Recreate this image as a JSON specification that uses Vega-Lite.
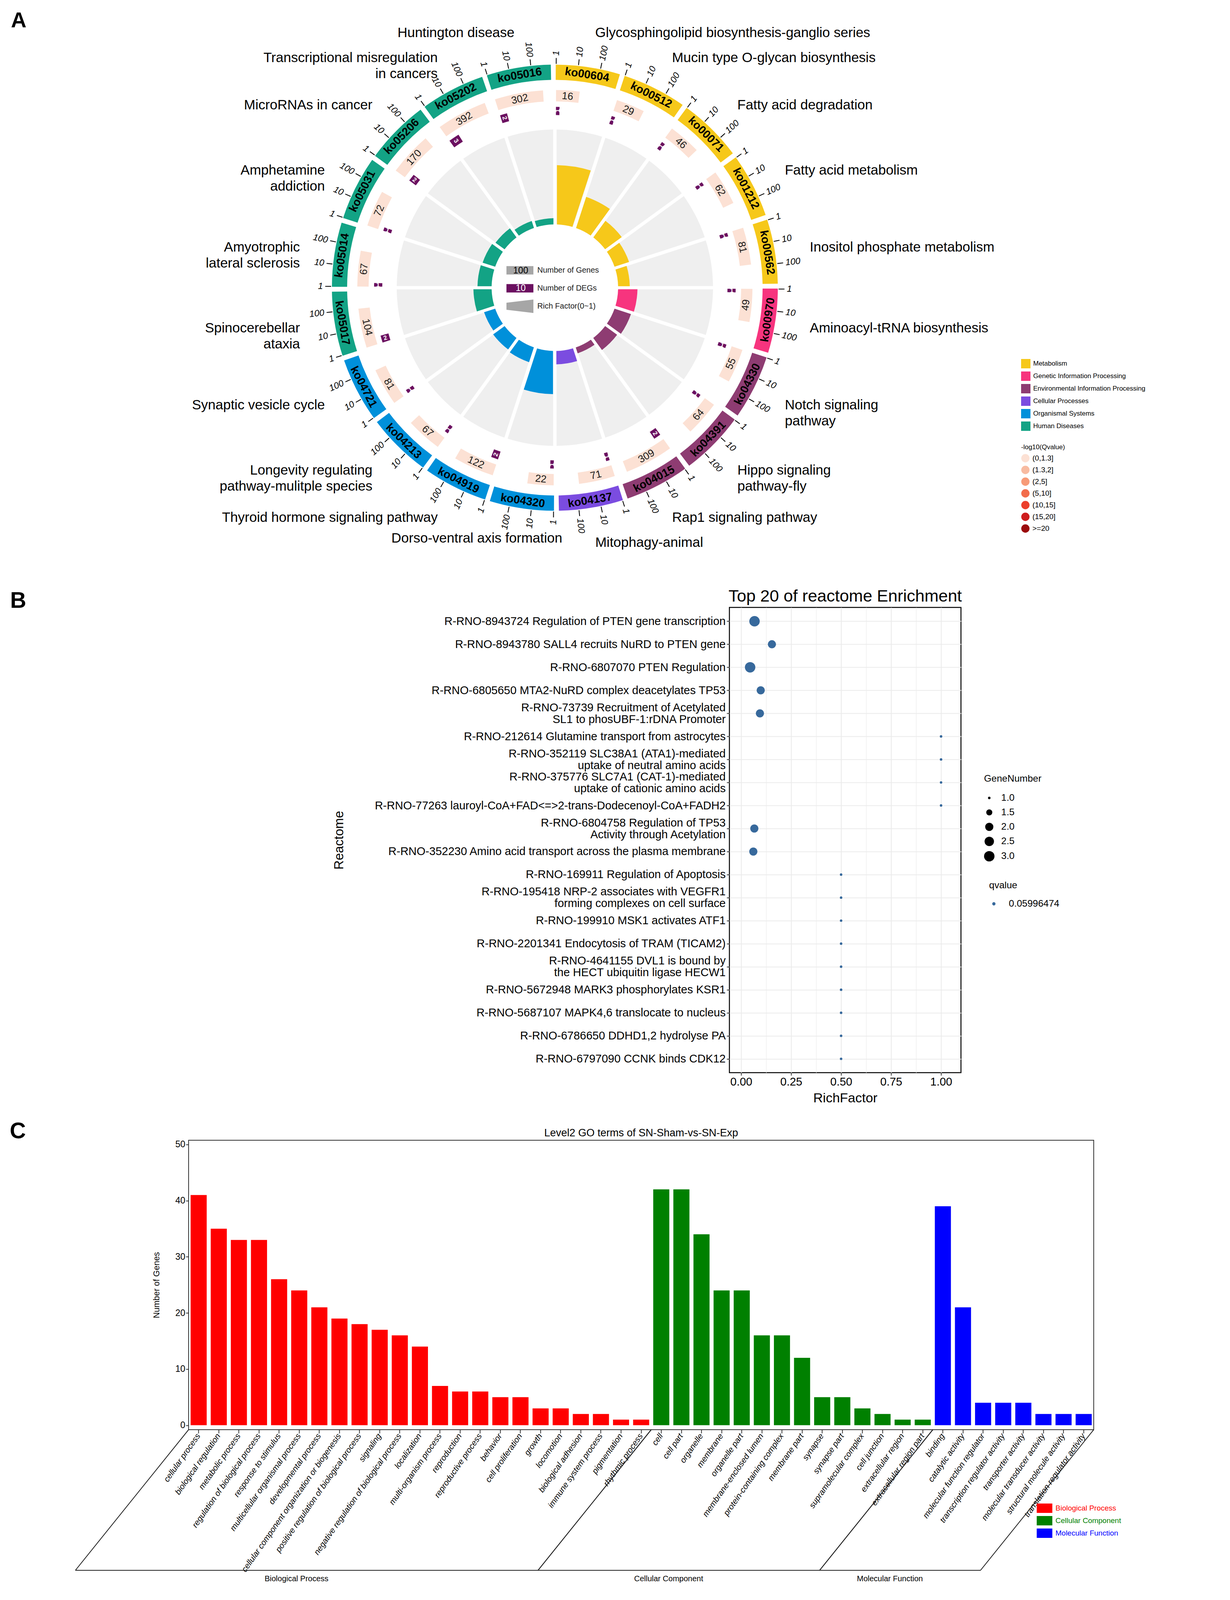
{
"$schema": "https://vega.github.io/schema/vega-lite/v6.json",
"padding": 0,
"background": "white",
"spacing": 0,
"bounds": "flush",
"resolve": {"scale": {"color": "independent", "fill": "independent", "size": "independent", "shape": "independent", "angle": "independent"}, "legend": {"color": "independent", "fill": "independent", "size": "independent", "shape": "independent"}},
"config": {
  "font": "Liberation Sans",
  "view": {"stroke": null},
  "axis": {"labelFont": "Liberation Sans", "titleFont": "Liberation Sans", "titleFontWeight": "normal", "labelColor": "#000", "titleColor": "#000"},
  "legend": {"labelFont": "Liberation Sans", "titleFont": "Liberation Sans", "titleFontWeight": "normal", "labelColor": "#000", "titleColor": "#000", "padding": 0, "labelLimit": 1000, "titleLimit": 1000},
  "title": {"font": "Liberation Sans", "fontWeight": "normal", "color": "#000"}
},
"vconcat": [
{
  "width": 2836, "height": 1473,
  "title": {"text": "A", "anchor": "start", "frame": "group", "orient": "top", "offset": -82, "fontSize": 55, "fontWeight": "bold", "dx": 25},
  "data": {"values": [
    {"idx":0,"id":"ko00604","name":"Glycosphingolipid biosynthesis-ganglio series","cat":"Metabolism","genes":16,"degs":1,"rich":0.0625,"q":"(0,1.3]"},
    {"idx":1,"id":"ko00512","name":"Mucin type O-glycan biosynthesis","cat":"Metabolism","genes":29,"degs":1,"rich":0.0345,"q":"(0,1.3]"},
    {"idx":2,"id":"ko00071","name":"Fatty acid degradation","cat":"Metabolism","genes":46,"degs":1,"rich":0.0217,"q":"(0,1.3]"},
    {"idx":3,"id":"ko01212","name":"Fatty acid metabolism","cat":"Metabolism","genes":62,"degs":1,"rich":0.0161,"q":"(0,1.3]"},
    {"idx":4,"id":"ko00562","name":"Inositol phosphate metabolism","cat":"Metabolism","genes":81,"degs":1,"rich":0.0123,"q":"(0,1.3]"},
    {"idx":5,"id":"ko00970","name":"Aminoacyl-tRNA biosynthesis","cat":"Genetic Information Processing","genes":49,"degs":1,"rich":0.0204,"q":"(0,1.3]"},
    {"idx":6,"id":"ko04330","name":"Notch signaling\npathway","cat":"Environmental Information Processing","genes":55,"degs":1,"rich":0.0182,"q":"(0,1.3]"},
    {"idx":7,"id":"ko04391","name":"Hippo signaling\npathway-fly","cat":"Environmental Information Processing","genes":64,"degs":1,"rich":0.0156,"q":"(0,1.3]"},
    {"idx":8,"id":"ko04015","name":"Rap1 signaling pathway","cat":"Environmental Information Processing","genes":309,"degs":2,"rich":0.0065,"q":"(0,1.3]"},
    {"idx":9,"id":"ko04137","name":"Mitophagy-animal","cat":"Cellular Processes","genes":71,"degs":1,"rich":0.0141,"q":"(0,1.3]"},
    {"idx":10,"id":"ko04320","name":"Dorso-ventral axis formation","cat":"Organismal Systems","genes":22,"degs":1,"rich":0.0455,"q":"(0,1.3]"},
    {"idx":11,"id":"ko04919","name":"Thyroid hormone signaling pathway","cat":"Organismal Systems","genes":122,"degs":2,"rich":0.0164,"q":"(0,1.3]"},
    {"idx":12,"id":"ko04213","name":"Longevity regulating\npathway-mulitple species","cat":"Organismal Systems","genes":67,"degs":1,"rich":0.0149,"q":"(0,1.3]"},
    {"idx":13,"id":"ko04721","name":"Synaptic vesicle cycle","cat":"Organismal Systems","genes":81,"degs":1,"rich":0.0123,"q":"(0,1.3]"},
    {"idx":14,"id":"ko05017","name":"Spinocerebellar\nataxia","cat":"Human Diseases","genes":104,"degs":2,"rich":0.0192,"q":"(0,1.3]"},
    {"idx":15,"id":"ko05014","name":"Amyotrophic\nlateral sclerosis","cat":"Human Diseases","genes":67,"degs":1,"rich":0.0149,"q":"(0,1.3]"},
    {"idx":16,"id":"ko05031","name":"Amphetamine\naddiction","cat":"Human Diseases","genes":72,"degs":1,"rich":0.0139,"q":"(0,1.3]"},
    {"idx":17,"id":"ko05206","name":"MicroRNAs in cancer","cat":"Human Diseases","genes":170,"degs":2,"rich":0.0118,"q":"(0,1.3]"},
    {"idx":18,"id":"ko05202","name":"Transcriptional misregulation\nin cancers","cat":"Human Diseases","genes":392,"degs":3,"rich":0.0077,"q":"(0,1.3]"},
    {"idx":19,"id":"ko05016","name":"Huntington disease","cat":"Human Diseases","genes":302,"degs":2,"rich":0.0066,"q":"(0,1.3]"}
  ]},
  "resolve": {"scale": {"angle": "independent", "color": "independent", "shape": "independent"}, "legend": {"color": "independent", "shape": "independent"}},
  "layer": [
    {"mark": {"type": "arc", "radius": 405, "radius2": 162, "thetaOffset": 0, "theta2Offset": 0.314159, "padAngle": 0.02, "fill": "#EFEFEF"},
     "encoding": {"theta": {"field": "idx", "type": "quantitative", "stack": null, "scale": {"domain": [0, 20], "range": [0, 6.283185307]}}, "theta2": {"field": "idx"}}},
    {"mark": {"type": "arc", "radius2": 162, "thetaOffset": 0, "theta2Offset": 0.314159, "padAngle": 0.03},
     "encoding": {"theta": {"field": "idx", "type": "quantitative", "stack": null, "scale": {"domain": [0, 20], "range": [0, 6.283185307]}}, "theta2": {"field": "idx"},
       "radius": {"field": "rich", "type": "quantitative", "scale": {"type": "linear", "domain": [0, 0.1], "range": [162, 405], "zero": false, "nice": false}},
       "fill": {"field": "cat", "type": "nominal", "scale": {"domain": ["Metabolism","Genetic Information Processing","Environmental Information Processing","Cellular Processes","Organismal Systems","Human Diseases"], "range": ["#F6C81A","#F7347E","#8E3C72","#7B4CE0","#0090DA","#13A385"]},
         "legend": {"orient": "none", "legendX": 2612, "legendY": 919, "title": null, "symbolType": "square", "symbolSize": 576, "labelFontSize": 17, "rowPadding": 8, "labelOffset": 7, "symbolStrokeWidth": 0}}}},
    {"mark": {"type": "arc", "radius": 506, "radius2": 477, "thetaOffset": 0.006, "theta2Offset": {"expr": "0.006 + 0.1 * log(datum.genes) / LN10"}},
     "encoding": {"theta": {"field": "idx", "type": "quantitative", "stack": null, "scale": {"domain": [0, 20], "range": [0, 6.283185307]}}, "theta2": {"field": "idx"},
       "color": {"field": "q", "type": "nominal", "scale": {"domain": ["(0,1.3]","(1.3,2]","(2,5]","(5,10]","(10,15]","(15,20]",">=20"], "range": ["#FCE1D4","#F8BBA1","#F79A77","#F26C4B","#EC3F2C","#CE1D1E","#9B0B0D"]},
         "legend": {"orient": "none", "legendX": 2612, "legendY": 1137, "title": "-log10(Qvalue)", "titleFontSize": 17, "titlePadding": 8, "symbolType": "circle", "symbolSize": 452, "labelFontSize": 19, "rowPadding": 8, "labelOffset": 7, "symbolStrokeWidth": 0}}}},
    {"mark": {"type": "text", "radius": 491, "thetaOffset": {"expr": "0.006 + 0.05 * log(datum.genes) / LN10"}, "fontSize": 26, "color": "#1a1a1a", "align": "center", "baseline": "middle"},
     "encoding": {"theta": {"field": "idx", "type": "quantitative", "stack": null, "scale": {"domain": [0, 20], "range": [0, 6.283185307]}},
       "text": {"field": "genes", "type": "quantitative"},
       "angle": {"field": "idx", "type": "quantitative", "scale": {"domain": [0, 4, 5, 14, 15, 19], "range": [5.5, 77.5, -84.5, 77.5, -84.5, -12.5]}}}},
    {"mark": {"type": "arc", "radius": 463, "radius2": 442, "thetaOffset": 0.006, "theta2Offset": {"expr": "0.006 + 0.02 * datum.degs"}, "fill": "#6B1060"},
     "encoding": {"theta": {"field": "idx", "type": "quantitative", "stack": null, "scale": {"domain": [0, 20], "range": [0, 6.283185307]}}, "theta2": {"field": "idx"}}},
    {"mark": {"type": "text", "radius": 453, "thetaOffset": {"expr": "0.006 + 0.01 * datum.degs"}, "fontSize": 16, "fontWeight": "bold", "color": "white", "align": "center", "baseline": "middle"},
     "encoding": {"theta": {"field": "idx", "type": "quantitative", "stack": null, "scale": {"domain": [0, 20], "range": [0, 6.283185307]}},
       "text": {"field": "degs", "type": "quantitative"},
       "angle": {"field": "idx", "type": "quantitative", "scale": {"domain": [0, 9, 10, 19], "range": [-89, 73, -89, 73]}}}},
    {"mark": {"type": "arc", "radius": 571, "radius2": 532, "thetaOffset": 0.004, "theta2Offset": 0.296},
     "encoding": {"theta": {"field": "idx", "type": "quantitative", "stack": null, "scale": {"domain": [0, 20], "range": [0, 6.283185307]}}, "theta2": {"field": "idx"},
       "fill": {"field": "cat", "type": "nominal", "scale": {"domain": ["Metabolism","Genetic Information Processing","Environmental Information Processing","Cellular Processes","Organismal Systems","Human Diseases"], "range": ["#F6C81A","#F7347E","#8E3C72","#7B4CE0","#0090DA","#13A385"]},
         "legend": {"orient": "none", "legendX": 2612, "legendY": 919, "title": null, "symbolType": "square", "symbolSize": 576, "labelFontSize": 17, "rowPadding": 8, "labelOffset": 7, "symbolStrokeWidth": 0}}}},
    {"mark": {"type": "text", "radius": 551.5, "thetaOffset": 0.15, "fontSize": 29, "fontWeight": "bold", "color": "#000", "align": "center", "baseline": "middle"},
     "encoding": {"theta": {"field": "idx", "type": "quantitative", "stack": null, "scale": {"domain": [0, 20], "range": [0, 6.283185307]}},
       "text": {"field": "id", "type": "nominal"},
       "angle": {"field": "idx", "type": "quantitative", "scale": {"domain": [0, 4, 5, 14, 15, 19], "range": [8.6, 80.6, -81.4, 80.6, -81.4, -9.4]}}}},
    {"mark": {"type": "arc", "radius": 588, "radius2": 573, "thetaOffset": 0.0042, "theta2Offset": 0.0078, "fill": "#000"},
     "encoding": {"theta": {"field": "idx", "type": "quantitative", "stack": null, "scale": {"domain": [0, 20], "range": [0, 6.283185307]}}, "theta2": {"field": "idx"}}},
    {"mark": {"type": "arc", "radius": 588, "radius2": 573, "thetaOffset": 0.1042, "theta2Offset": 0.1078, "fill": "#000"},
     "encoding": {"theta": {"field": "idx", "type": "quantitative", "stack": null, "scale": {"domain": [0, 20], "range": [0, 6.283185307]}}, "theta2": {"field": "idx"}}},
    {"mark": {"type": "arc", "radius": 588, "radius2": 573, "thetaOffset": 0.2042, "theta2Offset": 0.2078, "fill": "#000"},
     "encoding": {"theta": {"field": "idx", "type": "quantitative", "stack": null, "scale": {"domain": [0, 20], "range": [0, 6.283185307]}}, "theta2": {"field": "idx"}}},
    {"transform": [{"filter": "datum.idx < 10"}],
     "mark": {"type": "text", "radius": 594, "thetaOffset": 0.006, "fontSize": 23, "fontStyle": "italic", "align": "left", "baseline": "middle", "color": "#000"},
     "encoding": {"theta": {"field": "idx", "type": "quantitative", "stack": null, "scale": {"domain": [0, 20], "range": [0, 6.283185307]}}, "text": {"value": "1"},
       "angle": {"field": "idx", "type": "quantitative", "scale": {"domain": [0, 9], "range": [-89.66, 72.34]}}}},
    {"transform": [{"filter": "datum.idx >= 10"}],
     "mark": {"type": "text", "radius": 594, "thetaOffset": 0.006, "fontSize": 23, "fontStyle": "italic", "align": "right", "baseline": "middle", "color": "#000"},
     "encoding": {"theta": {"field": "idx", "type": "quantitative", "stack": null, "scale": {"domain": [0, 20], "range": [0, 6.283185307]}}, "text": {"value": "1"},
       "angle": {"field": "idx", "type": "quantitative", "scale": {"domain": [10, 19], "range": [-89.66, 72.34]}}}},
    {"transform": [{"filter": "datum.idx < 10"}],
     "mark": {"type": "text", "radius": 594, "thetaOffset": 0.106, "fontSize": 23, "fontStyle": "italic", "align": "left", "baseline": "middle", "color": "#000"},
     "encoding": {"theta": {"field": "idx", "type": "quantitative", "stack": null, "scale": {"domain": [0, 20], "range": [0, 6.283185307]}}, "text": {"value": "10"},
       "angle": {"field": "idx", "type": "quantitative", "scale": {"domain": [0, 9], "range": [-83.93, 78.07]}}}},
    {"transform": [{"filter": "datum.idx >= 10"}],
     "mark": {"type": "text", "radius": 594, "thetaOffset": 0.106, "fontSize": 23, "fontStyle": "italic", "align": "right", "baseline": "middle", "color": "#000"},
     "encoding": {"theta": {"field": "idx", "type": "quantitative", "stack": null, "scale": {"domain": [0, 20], "range": [0, 6.283185307]}}, "text": {"value": "10"},
       "angle": {"field": "idx", "type": "quantitative", "scale": {"domain": [10, 19], "range": [-83.93, 78.07]}}}},
    {"transform": [{"filter": "datum.idx < 10"}],
     "mark": {"type": "text", "radius": 594, "thetaOffset": 0.206, "fontSize": 23, "fontStyle": "italic", "align": "left", "baseline": "middle", "color": "#000"},
     "encoding": {"theta": {"field": "idx", "type": "quantitative", "stack": null, "scale": {"domain": [0, 20], "range": [0, 6.283185307]}}, "text": {"value": "100"},
       "angle": {"field": "idx", "type": "quantitative", "scale": {"domain": [0, 9], "range": [-78.2, 83.8]}}}},
    {"transform": [{"filter": "datum.idx >= 10"}],
     "mark": {"type": "text", "radius": 594, "thetaOffset": 0.206, "fontSize": 23, "fontStyle": "italic", "align": "right", "baseline": "middle", "color": "#000"},
     "encoding": {"theta": {"field": "idx", "type": "quantitative", "stack": null, "scale": {"domain": [0, 20], "range": [0, 6.283185307]}}, "text": {"value": "100"},
       "angle": {"field": "idx", "type": "quantitative", "scale": {"domain": [10, 19], "range": [-78.2, 83.8]}}}},
    {"transform": [{"filter": "datum.idx < 10"}],
     "mark": {"type": "text", "radius": 661, "thetaOffset": 0.157, "fontSize": 35, "align": "left", "baseline": "middle", "lineBreak": "\n", "lineHeight": 41, "color": "#000"},
     "encoding": {"theta": {"field": "idx", "type": "quantitative", "stack": null, "scale": {"domain": [0, 20], "range": [0, 6.283185307]}}, "text": {"field": "name", "type": "nominal"}}},
    {"transform": [{"filter": "datum.idx > 10"}],
     "mark": {"type": "text", "radius": 661, "thetaOffset": 0.157, "fontSize": 35, "align": "right", "baseline": "middle", "lineBreak": "\n", "lineHeight": 41, "color": "#000"},
     "encoding": {"theta": {"field": "idx", "type": "quantitative", "stack": null, "scale": {"domain": [0, 20], "range": [0, 6.283185307]}}, "text": {"field": "name", "type": "nominal"}}},
    {"transform": [{"filter": "datum.idx == 10"}],
     "mark": {"type": "text", "radius": 672, "thetaOffset": 0.302, "fontSize": 35, "align": "center", "baseline": "middle", "color": "#000"},
     "encoding": {"theta": {"field": "idx", "type": "quantitative", "stack": null, "scale": {"domain": [0, 20], "range": [0, 6.283185307]}}, "text": {"field": "name", "type": "nominal"}}},
    {"data": {"values": [{"item": "Number of Genes"}, {"item": "Number of DEGs"}, {"item": "Rich Factor(0~1)"}]},
     "transform": [{"filter": "false"}],
     "mark": {"type": "point", "filled": true, "opacity": 1},
     "encoding": {
       "color": {"field": "item", "type": "nominal", "scale": {"domain": ["Number of Genes", "Number of DEGs", "Rich Factor(0~1)"], "range": ["#A6A6A6", "#6B1060", "#A6A6A6"]},
         "legend": {"orient": "none", "legendX": 1294, "legendY": 657.5, "title": null, "symbolSize": 4761, "symbolOpacity": 1, "labelFontSize": 20, "rowPadding": -24.5, "labelOffset": 10, "symbolStrokeWidth": 0, "labelColor": "#1a1a1a", "zindex": 1}},
       "shape": {"field": "item", "type": "nominal", "scale": {"domain": ["Number of Genes", "Number of DEGs", "Rich Factor(0~1)"], "range": ["M-1,-0.3125L1,-0.3125L1,0.3125L-1,0.3125Z", "M-1,-0.3125L1,-0.3125L1,0.3125L-1,0.3125Z", "M-1,-0.26L1,-0.5L1,0.5L-1,0.26Z"]},
         "legend": {"orient": "none", "legendX": 1294, "legendY": 657.5, "title": null, "symbolSize": 4761, "symbolOpacity": 1, "labelFontSize": 20, "rowPadding": -24.5, "labelOffset": 10, "symbolStrokeWidth": 0, "labelColor": "#1a1a1a", "zindex": 1}}}},
    {"data": {"values": [{"num": "100"}]},
     "transform": [{"filter": "false"}],
     "mark": {"type": "point", "filled": true, "opacity": 1},
     "encoding": {
       "color": {"field": "num", "type": "nominal", "scale": {"domain": ["100"], "range": ["#000"]},
         "legend": {"orient": "none", "legendX": 1294, "legendY": 657.5, "title": null, "symbolSize": 4761, "symbolOpacity": 0, "labelFontSize": 23, "labelOffset": -34.5, "labelAlign": "center", "zindex": 5, "labelColor": "#000"}}}},
    {"data": {"values": [{"num": "10"}]},
     "transform": [{"filter": "false"}],
     "mark": {"type": "point", "filled": true, "opacity": 1},
     "encoding": {
       "color": {"field": "num", "type": "nominal", "scale": {"domain": ["10"], "range": ["#000"]},
         "legend": {"orient": "none", "legendX": 1294, "legendY": 702, "title": null, "symbolSize": 4761, "symbolOpacity": 0, "labelFontSize": 23, "labelOffset": -34.5, "labelAlign": "center", "zindex": 5, "labelColor": "#FFFFFF"}}}}
  ]
},
{"width": 1, "height": 82, "data": {"values": [{"a": 1}]}, "mark": {"type": "point", "opacity": 0}, "encoding": {}},
{
  "spacing": 0,
  "bounds": "flush",
  "resolve": {"scale": {"color": "independent", "size": "independent"}, "legend": {"color": "independent", "size": "independent"}},
  "hconcat": [
    {"width": 1865, "height": 10, "data": {"values": [{"a": 1}]}, "mark": {"type": "point", "opacity": 0}, "encoding": {},
     "title": {"text": "B", "anchor": "start", "frame": "group", "orient": "top", "offset": -13, "fontSize": 57, "fontWeight": "bold", "dx": 23}},
    {
      "width": 593, "height": 1191,
      "view": {"stroke": "#000", "strokeWidth": 2.5},
      "title": {"text": "Top 20 of reactome Enrichment", "fontSize": 43, "anchor": "middle", "offset": 6},
      "data": {"values": [
        {"term": "R-RNO-8943724 Regulation of PTEN gene transcription", "RichFactor": 0.067, "GeneNumber": 3, "qvalue": 0.05996474},
        {"term": "R-RNO-8943780 SALL4 recruits NuRD to PTEN gene", "RichFactor": 0.154, "GeneNumber": 2, "qvalue": 0.05996474},
        {"term": "R-RNO-6807070 PTEN Regulation", "RichFactor": 0.045, "GeneNumber": 3, "qvalue": 0.05996474},
        {"term": "R-RNO-6805650 MTA2-NuRD complex deacetylates TP53", "RichFactor": 0.098, "GeneNumber": 2, "qvalue": 0.05996474},
        {"term": "R-RNO-73739 Recruitment of Acetylated\nSL1 to phosUBF-1:rDNA Promoter", "RichFactor": 0.094, "GeneNumber": 2, "qvalue": 0.05996474},
        {"term": "R-RNO-212614 Glutamine transport from astrocytes", "RichFactor": 1.0, "GeneNumber": 1, "qvalue": 0.05996474},
        {"term": "R-RNO-352119 SLC38A1 (ATA1)-mediated\nuptake of neutral amino acids", "RichFactor": 1.0, "GeneNumber": 1, "qvalue": 0.05996474},
        {"term": "R-RNO-375776 SLC7A1 (CAT-1)-mediated\nuptake of cationic amino acids", "RichFactor": 1.0, "GeneNumber": 1, "qvalue": 0.05996474},
        {"term": "R-RNO-77263 lauroyl-CoA+FAD<=>2-trans-Dodecenoyl-CoA+FADH2", "RichFactor": 1.0, "GeneNumber": 1, "qvalue": 0.05996474},
        {"term": "R-RNO-6804758 Regulation of TP53\nActivity through Acetylation", "RichFactor": 0.066, "GeneNumber": 2, "qvalue": 0.05996474},
        {"term": "R-RNO-352230 Amino acid transport across the plasma membrane", "RichFactor": 0.061, "GeneNumber": 2, "qvalue": 0.05996474},
        {"term": "R-RNO-169911 Regulation of Apoptosis", "RichFactor": 0.5, "GeneNumber": 1, "qvalue": 0.05996474},
        {"term": "R-RNO-195418 NRP-2 associates with VEGFR1\nforming complexes on  cell surface", "RichFactor": 0.5, "GeneNumber": 1, "qvalue": 0.05996474},
        {"term": "R-RNO-199910 MSK1 activates ATF1", "RichFactor": 0.5, "GeneNumber": 1, "qvalue": 0.05996474},
        {"term": "R-RNO-2201341 Endocytosis of TRAM (TICAM2)", "RichFactor": 0.5, "GeneNumber": 1, "qvalue": 0.05996474},
        {"term": "R-RNO-4641155 DVL1 is bound by\nthe HECT ubiquitin ligase HECW1", "RichFactor": 0.5, "GeneNumber": 1, "qvalue": 0.05996474},
        {"term": "R-RNO-5672948 MARK3 phosphorylates KSR1", "RichFactor": 0.5, "GeneNumber": 1, "qvalue": 0.05996474},
        {"term": "R-RNO-5687107 MAPK4,6 translocate to nucleus", "RichFactor": 0.5, "GeneNumber": 1, "qvalue": 0.05996474},
        {"term": "R-RNO-6786650 DDHD1,2 hydrolyse PA", "RichFactor": 0.5, "GeneNumber": 1, "qvalue": 0.05996474},
        {"term": "R-RNO-6797090 CCNK binds CDK12", "RichFactor": 0.5, "GeneNumber": 1, "qvalue": 0.05996474}
      ]},
      "mark": {"type": "circle", "opacity": 1},
      "encoding": {
        "y": {"field": "term", "type": "nominal", "sort": null, "scale": {"padding": 0.6},
          "axis": {"title": "Reactome", "titleFontSize": 33, "titleX": -1000, "titleY": 595.5, "titleAngle": -90, "titleAlign": "center", "titleBaseline": "middle",
            "labelFontSize": 29, "labelLimit": 2000, "labelLineHeight": 30, "labelExpr": "split(datum.label, '\\n')",
            "labelOffset": {"condition": {"test": "indexof(datum.value, '\\n') >= 0", "value": -15}, "value": 0},
            "tickSize": 7, "tickColor": "#333", "tickWidth": 2, "domain": false, "grid": true, "gridColor": "#EBEBEB", "gridWidth": 2, "labelPadding": 3, "labelOverlap": false}},
        "x": {"field": "RichFactor", "type": "quantitative", "scale": {"domain": [-0.0586, 1.0996], "nice": false, "zero": false},
          "axis": {"title": "RichFactor", "titleFontSize": 34, "labelFontSize": 29, "values": [0, 0.125, 0.25, 0.375, 0.5, 0.625, 0.75, 0.875, 1],
            "labelExpr": "datum.value * 8 % 2 == 1 ? '' : format(datum.value, '.2f')", "labelOverlap": false,
            "tickSize": 7, "tickColor": "#333", "tickWidth": 2, "domain": false, "grid": true, "gridColor": "#EBEBEB",
            "gridWidth": {"condition": {"test": "datum.value * 8 % 2 == 1", "value": 1.2}, "value": 2.2},
            "tickOpacity": {"condition": {"test": "datum.value * 8 % 2 == 1", "value": 0}, "value": 1},
            "titlePadding": 10}},
        "size": {"field": "GeneNumber", "type": "quantitative", "scale": {"domain": [1, 2, 3], "range": [41, 441, 715]},
          "legend": {"orient": "none", "legendX": 652, "legendY": 427, "title": "GeneNumber", "titleFontSize": 24.5, "labelFontSize": 24.5, "values": [1, 1.5, 2, 2.5, 3], "format": ".1f", "symbolFillColor": "#000", "symbolStrokeColor": "#000", "symbolStrokeWidth": 0, "rowPadding": 12, "labelOffset": 17, "titlePadding": 24}},
        "color": {"field": "qvalue", "type": "nominal", "scale": {"range": ["#37699C"]},
          "legend": {"orient": "none", "legendX": 665, "legendY": 700, "title": "qvalue", "titleFontSize": 24.5, "labelFontSize": 24.5, "symbolType": "circle", "symbolSize": 70, "symbolStrokeWidth": 0, "labelOffset": 26, "titlePadding": 22}}
      }
    }
  ]
},
{"width": 1, "height": 1364, "data": {"values": [{"a": 1}]}, "mark": {"type": "point", "opacity": 0}, "encoding": {}},
{
  "spacing": 0,
  "bounds": "flush",
  "resolve": {"scale": {"color": "independent"}, "legend": {"color": "independent"}},
  "hconcat": [
    {"width": 480, "height": 10, "data": {"values": [{"a": 1}]}, "mark": {"type": "point", "opacity": 0}, "encoding": {},
     "title": {"text": "C", "anchor": "start", "frame": "group", "orient": "top", "offset": -7, "fontSize": 57, "fontWeight": "bold", "dx": 22}},
    {
      "width": 2318, "height": 741,
      "view": {"stroke": "#333", "strokeWidth": 2},
      "title": {"text": "Level2 GO terms of SN-Sham-vs-SN-Exp", "fontSize": 27, "anchor": "middle", "offset": 4},
      "data": {"values": [
        {"term": "cellular process", "count": 41, "group": "Biological Process"},
        {"term": "biological regulation", "count": 35, "group": "Biological Process"},
        {"term": "metabolic process", "count": 33, "group": "Biological Process"},
        {"term": "regulation of biological process", "count": 33, "group": "Biological Process"},
        {"term": "response to stimulus", "count": 26, "group": "Biological Process"},
        {"term": "multicellular organismal process", "count": 24, "group": "Biological Process"},
        {"term": "developmental process", "count": 21, "group": "Biological Process"},
        {"term": "cellular component organization or biogenesis", "count": 19, "group": "Biological Process"},
        {"term": "positive regulation of biological process", "count": 18, "group": "Biological Process"},
        {"term": "signaling", "count": 17, "group": "Biological Process"},
        {"term": "negative regulation of biological process", "count": 16, "group": "Biological Process"},
        {"term": "localization", "count": 14, "group": "Biological Process"},
        {"term": "multi-organism process", "count": 7, "group": "Biological Process"},
        {"term": "reproduction", "count": 6, "group": "Biological Process"},
        {"term": "reproductive process", "count": 6, "group": "Biological Process"},
        {"term": "behavior", "count": 5, "group": "Biological Process"},
        {"term": "cell proliferation", "count": 5, "group": "Biological Process"},
        {"term": "growth", "count": 3, "group": "Biological Process"},
        {"term": "locomotion", "count": 3, "group": "Biological Process"},
        {"term": "biological adhesion", "count": 2, "group": "Biological Process"},
        {"term": "immune system process", "count": 2, "group": "Biological Process"},
        {"term": "pigmentation", "count": 1, "group": "Biological Process"},
        {"term": "rhythmic process", "count": 1, "group": "Biological Process"},
        {"term": "cell", "count": 42, "group": "Cellular Component"},
        {"term": "cell part", "count": 42, "group": "Cellular Component"},
        {"term": "organelle", "count": 34, "group": "Cellular Component"},
        {"term": "membrane", "count": 24, "group": "Cellular Component"},
        {"term": "organelle part", "count": 24, "group": "Cellular Component"},
        {"term": "membrane-enclosed lumen", "count": 16, "group": "Cellular Component"},
        {"term": "protein-containing complex", "count": 16, "group": "Cellular Component"},
        {"term": "membrane part", "count": 12, "group": "Cellular Component"},
        {"term": "synapse", "count": 5, "group": "Cellular Component"},
        {"term": "synapse part", "count": 5, "group": "Cellular Component"},
        {"term": "supramolecular complex", "count": 3, "group": "Cellular Component"},
        {"term": "cell junction", "count": 2, "group": "Cellular Component"},
        {"term": "extracellular region", "count": 1, "group": "Cellular Component"},
        {"term": "extracellular region part", "count": 1, "group": "Cellular Component"},
        {"term": "binding", "count": 39, "group": "Molecular Function"},
        {"term": "catalytic activity", "count": 21, "group": "Molecular Function"},
        {"term": "molecular function regulator", "count": 4, "group": "Molecular Function"},
        {"term": "transcription regulator activity", "count": 4, "group": "Molecular Function"},
        {"term": "transporter activity", "count": 4, "group": "Molecular Function"},
        {"term": "molecular transducer activity", "count": 2, "group": "Molecular Function"},
        {"term": "structural molecule activity", "count": 2, "group": "Molecular Function"},
        {"term": "translation regulator activity", "count": 2, "group": "Molecular Function"}
      ]},
      "resolve": {"scale": {"x": "independent"}},
      "layer": [
        {"mark": {"type": "bar"},
         "encoding": {
           "x": {"field": "term", "type": "nominal", "sort": null, "scale": {"paddingInner": 0.2, "paddingOuter": 0.1},
             "axis": {"title": null, "labelAngle": -55, "labelFontSize": 21, "labelFontStyle": "italic", "labelLimit": 1000, "labelOverlap": false, "tickSize": 9, "tickColor": "#333", "tickWidth": 2, "domain": false, "labelPadding": 3}},
           "y": {"field": "count", "type": "quantitative", "scale": {"domain": [-0.8, 50.75], "nice": false, "zero": false},
             "axis": {"title": "Number of Genes", "values": [0, 10, 20, 30, 40, 50], "titleFontSize": 21.5, "labelFontSize": 23, "tickSize": 7, "tickColor": "#333", "tickWidth": 2, "domain": false, "grid": false, "titlePadding": 36}},
           "y2": {"datum": 0},
           "color": {"field": "group", "type": "nominal", "scale": {"domain": ["Biological Process", "Cellular Component", "Molecular Function"], "range": ["#FF0000", "#008000", "#0000FF"]},
             "legend": {"orient": "none", "legendX": 2172, "legendY": 922, "title": null, "symbolType": "M-1,-0.6L1,-0.6L1,0.6L-1,0.6Z", "symbolSize": 1600, "symbolStrokeWidth": 0, "labelFontSize": 19, "rowPadding": -3, "labelOffset": 8,
               "labelColor": {"expr": "datum.value == 'Biological Process' ? '#FF0000' : datum.value == 'Cellular Component' ? '#008000' : '#0000FF'"}}}
         }},
        {"transform": [
           {"aggregate": [{"op": "count", "as": "n"}], "groupby": ["group"]},
           {"stack": "n", "groupby": [], "sort": [{"field": "group"}], "as": ["s0", "s1"]},
           {"fold": ["s0", "s1"], "as": ["edge", "pos"]}
         ],
         "mark": {"type": "rule", "color": "#222", "strokeWidth": 2, "x2Offset": -290},
         "encoding": {
           "x": {"field": "pos", "type": "quantitative", "scale": {"domain": [0, 45], "nice": false, "zero": false}, "axis": null},
           "x2": {"field": "pos"},
           "y": {"datum": -0.8, "type": "quantitative"},
           "y2": {"datum": -25.85}
         }},
        {"transform": [{"aggregate": [{"op": "count", "as": "n"}]}],
         "mark": {"type": "rule", "color": "#222", "strokeWidth": 2, "xOffset": -290, "x2Offset": -290},
         "encoding": {
           "x": {"datum": 0, "type": "quantitative", "scale": {"domain": [0, 45], "nice": false, "zero": false}, "axis": null},
           "x2": {"datum": 45},
           "y": {"datum": -25.85, "type": "quantitative"}
         }},
        {"transform": [
           {"aggregate": [{"op": "count", "as": "n"}], "groupby": ["group"]},
           {"stack": "n", "groupby": [], "sort": [{"field": "group"}], "as": ["s0", "s1"]},
           {"fold": ["s0", "s1"], "as": ["edge", "pos"]},
           {"aggregate": [{"op": "mean", "field": "pos", "as": "mid"}], "groupby": ["group"]}
         ],
         "mark": {"type": "text", "fontSize": 20, "align": "center", "baseline": "middle", "dx": -316, "color": "#000"},
         "encoding": {
           "x": {"field": "mid", "type": "quantitative", "scale": {"domain": [0, 45], "nice": false, "zero": false}, "axis": null},
           "y": {"datum": -27.35, "type": "quantitative"},
           "text": {"field": "group", "type": "nominal"}
         }}
      ]
    }
  ]
},
{"width": 1, "height": 1159, "data": {"values": [{"a": 1}]}, "mark": {"type": "point", "opacity": 0}, "encoding": {}}
]
}
